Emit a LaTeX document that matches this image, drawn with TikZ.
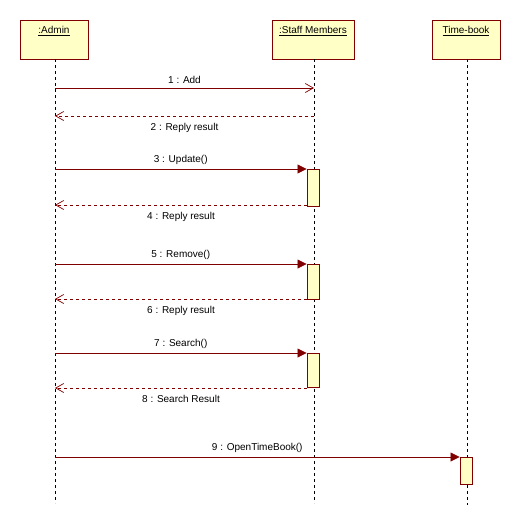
\documentclass[tikz,border=0pt]{standalone}
\usepackage{fontspec}
\setmainfont{Liberation Sans}
\usetikzlibrary{arrows.meta}
\definecolor{umlred}{HTML}{800000}
\definecolor{umlfill}{HTML}{FFFFC6}
\tikzset{
  objbox/.style={draw=umlred, fill=umlfill, line width=0.9pt, minimum height=39pt, anchor=north, inner sep=0pt},
  objlabel/.style={font=\fontsize{10}{11}\selectfont, anchor=center},
  lifeline/.style={dashed, dash pattern=on 3pt off 3pt, line width=0.7pt, black},
  actbox/.style={draw=umlred, fill=umlfill, line width=0.9pt, minimum width=12pt, inner sep=0pt, anchor=north},
  callmsg/.style={draw=umlred, line width=0.8pt, -{Triangle[length=9pt,width=9pt]}},
  asyncmsg/.style={draw=umlred, line width=0.8pt, -{Straight Barb[length=8pt,width=9pt,line width=0.7pt]}},
  replymsg/.style={draw=umlred, line width=0.8pt, dashed, dash pattern=on 3pt off 3pt, -{Straight Barb[length=8pt,width=9pt,line width=0.7pt]}},
  msglabel/.style={font=\fontsize{10}{11}\selectfont, text=black, inner sep=1pt}
}
\begin{document}
\begin{tikzpicture}[x=1pt,y=-1pt]
\useasboundingbox (0,0) rectangle (521,525);
% object boxes
\node[objbox, minimum width=68pt] (admin) at (54,20) {};
\node[objbox, minimum width=82pt] (staff) at (313,20) {};
\node[objbox, minimum width=68pt] (tb) at (466,20) {};
\node[objlabel] (adminl) at (54,31) {\underline{:Admin}};
\node[objlabel] (staffl) at (313,31) {\underline{:Staff Members}};
\node[objlabel] (tbl) at (466,31) {\underline{Time-book}};
% lifeline ends
\coordinate (adminEnd) at (55,503);
\coordinate (staffEnd) at (314,503);
\coordinate (tbEnd) at (467,505);
\coordinate (adminTop) at (55,59);
\coordinate (staffTop) at (314,59);
\coordinate (tbTop) at (467,59);
\draw[lifeline] (adminTop) -- (adminEnd);
\draw[lifeline] (staffTop) -- (staffEnd);
\draw[lifeline] (tbTop) -- (tbEnd);
% activations
\node[actbox, minimum height=37pt] (act1) at (313,169) {};
\node[actbox, minimum height=35pt] (act2) at (313,264) {};
\node[actbox, minimum height=34pt] (act3) at (313,353) {};
\node[actbox, minimum height=27pt] (act4) at (466,457) {};
% message coordinates
\coordinate (a1) at (55,88);   \coordinate (s1) at (314,88);
\coordinate (s2) at (314,116); \coordinate (a2) at (55,116);
\coordinate (a3) at (55,169);
\coordinate (s4) at (307,205); \coordinate (a4) at (55,205);
\coordinate (a5) at (55,264);
\coordinate (s6) at (307,299); \coordinate (a6) at (55,299);
\coordinate (a7) at (55,353);
\coordinate (s8) at (307,388); \coordinate (a8) at (55,388);
\coordinate (a9) at (55,457);
% messages
\draw[asyncmsg] (a1) -- node[msglabel, above=3pt] {1 : Add} (s1);
\draw[replymsg] (s2) -- node[msglabel, below=6pt] {2 : Reply result} (a2);
\draw[callmsg] (a3) -- node[msglabel, above=3pt] {3 : Update()} (act1.north west);
\draw[replymsg] (s4) -- node[msglabel, below=6pt] {4 : Reply result} (a4);
\draw[callmsg] (a5) -- node[msglabel, above=3pt] {5 : Remove()} (act2.north west);
\draw[replymsg] (s6) -- node[msglabel, below=6pt] {6 : Reply result} (a6);
\draw[callmsg] (a7) -- node[msglabel, above=3pt] {7 : Search()} (act3.north west);
\draw[replymsg] (s8) -- node[msglabel, below=6pt] {8 : Search Result} (a8);
\draw[callmsg] (a9) -- node[msglabel, above=3pt] {9 : OpenTimeBook()} (act4.north west);
\end{tikzpicture}
\end{document}
